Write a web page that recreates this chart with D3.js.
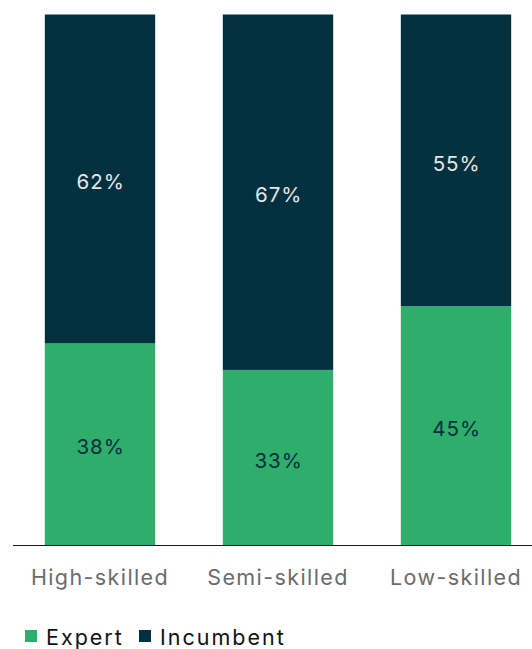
<!DOCTYPE html>
<html>
<head>
<meta charset="utf-8">
<script src="https://cdn.jsdelivr.net/npm/d3@7"></script>
<style>
  html, body { margin: 0; padding: 0; background: #fff; }
  svg { display: block; font-family: "Inter", "Open Sans", sans-serif; }
</style>
</head>
<body>
<svg id="chart" width="532" height="649"></svg>
<script>
// Share of hires by skill level, split between experts and incumbents
const categories = ["High-skilled", "Semi-skilled", "Low-skilled"];
const expert = [38, 33, 45];
const incumbent = [62, 67, 55];
const seriesNames = ["Expert", "Incumbent"];
const seriesColors = ["#2fad6b", "#03303f"];
const labelColors = ["#0b2f3f", "#e3e6e8"];

const svg = d3.select("#chart");
const width = 532;

const rows = categories.map((c, i) => ({ category: c, Expert: expert[i], Incumbent: incumbent[i] }));
const stacked = d3.stack().keys(seriesNames)(rows);

const x = d3.scaleBand()
  .domain(categories)
  .range([11, 545])
  .paddingInner(0.38)
  .paddingOuter(0.19);

const y = d3.scaleLinear()
  .domain([0, 100])
  .range([545, 14.5]);

const color = d3.scaleOrdinal().domain(seriesNames).range(seriesColors);
const labelColor = d3.scaleOrdinal().domain(seriesNames).range(labelColors);

const layers = svg.append("g")
  .selectAll("g")
  .data(stacked)
  .join("g")
  .attr("fill", d => color(d.key));

layers.selectAll("rect")
  .data(d => d)
  .join("rect")
  .attr("x", d => x(d.data.category))
  .attr("width", x.bandwidth())
  .attr("y", d => y(d[1]))
  .attr("height", d => y(d[0]) - y(d[1]));

// Value labels centred in each segment
svg.append("g")
  .selectAll("g")
  .data(stacked)
  .join("g")
  .attr("fill", d => labelColor(d.key))
  .selectAll("text")
  .data(d => d)
  .join("text")
  .attr("x", d => x(d.data.category) + x.bandwidth() / 2 + 0.7)
  .attr("y", d => (y(d[0]) + y(d[1])) / 2 + 3)
  .attr("dy", "0.35em")
  .attr("text-anchor", "middle")
  .style("font-size", "20.5px")
  .style("letter-spacing", "1px")
  .text(d => (d[1] - d[0]) + "%");

// Baseline axis with category labels
const xAxis = d3.axisBottom(x).tickSize(0).tickPadding(25);
const axisG = svg.append("g")
  .attr("transform", "translate(0,545)")
  .call(xAxis);
axisG.select(".domain").remove();
axisG.append("line")
  .attr("x1", 13).attr("x2", width)
  .attr("y1", 0.5).attr("y2", 0.5)
  .attr("stroke", "#1a1a1a")
  .attr("stroke-width", 1.2);
axisG.selectAll(".tick text")
  .attr("fill", "#6b6b6b")
  .style("font-size", "21.5px")
  .style("letter-spacing", "1.4px")
  .style("font-family", "Inter, 'Open Sans', sans-serif");

// Legend
const legend = svg.append("g").attr("transform", "translate(25,637)");
const legendX = [0, 114];
const items = legend.selectAll("g")
  .data(seriesNames)
  .join("g")
  .attr("transform", (d, i) => `translate(${legendX[i]},0)`);
items.append("rect")
  .attr("x", 0).attr("y", -7)
  .attr("width", 12).attr("height", 12)
  .attr("fill", d => color(d));
items.append("text")
  .attr("x", 21).attr("y", 0)
  .attr("dy", "0.35em")
  .attr("fill", "#111")
  .style("font-size", "21.5px")
  .style("letter-spacing", "2px")
  .text(d => d);
</script>
</body>
</html>
